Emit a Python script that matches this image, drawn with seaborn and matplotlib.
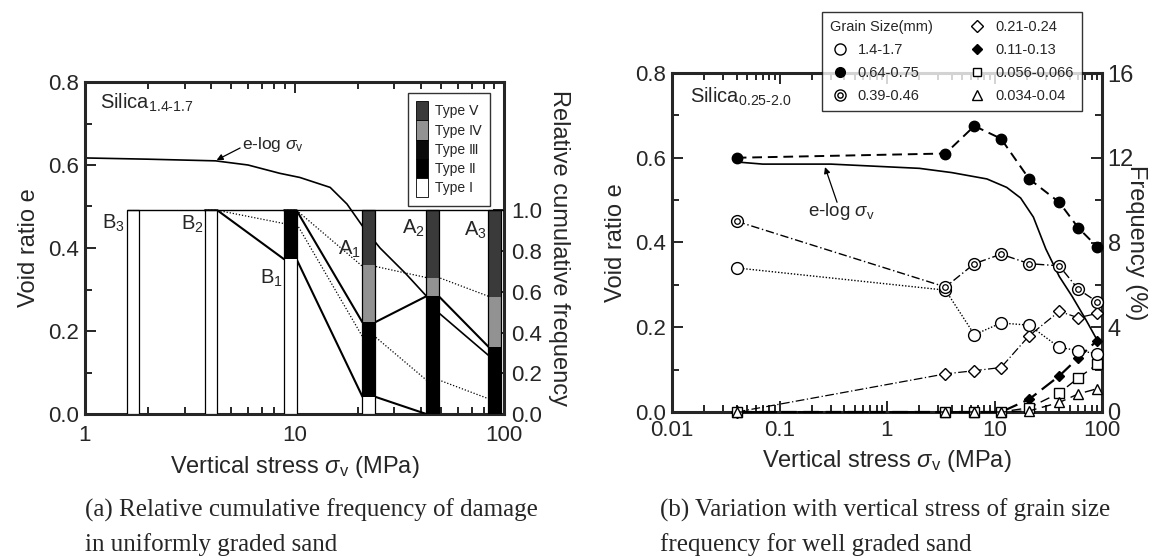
import numpy as np
import matplotlib
matplotlib.use("Agg")
import matplotlib.pyplot as plt
import seaborn as sns
from matplotlib.lines import Line2D
from matplotlib.patches import Patch
from matplotlib.ticker import LogLocator, NullFormatter, MultipleLocator, FixedLocator, FixedFormatter

nan = np.nan

# ---------------- (a) uniformly graded sand ----------------
a_stress = [1, 2, 4.2, 6, 8.5, 10.6, 14.8, 17.8, 21.3, 25.6, 34, 43, 49, 65, 84, 95]
a_void = [0.617, 0.614, 0.61, 0.60, 0.58, 0.57, 0.546, 0.506, 0.45, 0.40, 0.338,
          0.282, 0.243, 0.19, 0.142, 0.13]

col_names = ["B$_3$", "B$_2$", "B$_1$", "A$_1$", "A$_2$", "A$_3$"]
col_stress = [1.69, 4.0, 9.55, 22.6, 45.6, 90.3]
type_I = [1.0, 1.0, 0.76, 0.085, 0.0, 0.0]
type_II = [0.0, 0.0, 0.24, 0.365, 0.58, 0.33]
type_III = [0.0, 0.0, 0.0, 0.0, 0.0, 0.0]
type_IV = [0.0, 0.0, 0.0, 0.28, 0.09, 0.245]
type_V = [0.0, 0.0, 0.0, 0.27, 0.33, 0.425]
type_labels = ["Type Ⅰ", "Type Ⅱ", "Type Ⅲ", "Type Ⅳ", "Type Ⅴ"]

# cumulative-frequency links between neighbouring stress levels
link_solid_1 = [nan, 1.0, 0.76, 0.085, 0.0, nan]
link_solid_2 = [nan, nan, 1.0, 0.45, 0.578, 0.33]
link_dot_1 = [nan, 1.0, 0.935, 0.38, 0.167, 0.075]
link_dot_2 = [nan, nan, 1.0, 0.725, 0.67, 0.578]

# ---------------- (b) well graded sand ----------------
b_stress = [0.04, 3.5, 6.5, 11.5, 21, 40, 60, 90]
freq_1_4 = [6.8, 5.75, 3.65, 4.2, 4.1, 3.05, 2.9, 2.75]
freq_0_64 = [12.0, 12.2, 13.5, 12.9, 11.0, 9.9, 8.7, 7.8]
freq_0_39 = [9.0, 5.9, 7.0, 7.45, 7.0, 6.9, 5.8, 5.2]
freq_0_21 = [0.0, 1.8, 1.95, 2.1, 3.6, 4.75, 4.45, 4.65]
freq_0_11 = [0.0, 0.0, 0.0, 0.0, 0.6, 1.7, 2.55, 3.37]
freq_0_056 = [0.0, 0.0, 0.0, 0.0, 0.2, 0.9, 1.6, 2.25]
freq_0_034 = [0.0, 0.0, 0.0, 0.0, 0.05, 0.45, 0.85, 1.1]
grain_labels = ["1.4-1.7", "0.64-0.75", "0.39-0.46", "0.21-0.24",
                "0.11-0.13", "0.056-0.066", "0.034-0.04"]

b_elog_stress = [0.04, 0.07, 0.3, 2, 4, 8.5, 13, 17.5, 23, 30, 40, 53, 70, 90]
b_elog_void = [0.59, 0.585, 0.585, 0.575, 0.565, 0.55, 0.53, 0.505, 0.46, 0.385,
               0.32, 0.272, 0.22, 0.17]

# ---------------- style ----------------
sns.set_style("ticks")
plt.rcParams["font.family"] = ["Liberation Sans", "DejaVu Sans"]
plt.rcParams["mathtext.fontset"] = "custom"
plt.rcParams["mathtext.rm"] = "Liberation Sans"
plt.rcParams["mathtext.it"] = "Liberation Sans:italic"
plt.rcParams["mathtext.bf"] = "Liberation Sans:bold"

TICK = 16
LABEL = 17
SPINE = 2.2

fig = plt.figure(figsize=(11.65, 5.6), dpi=100)
fig.patch.set_facecolor("white")
W, H = 1165, 560


def px_axes(l, t, r, b):
    return fig.add_axes([l / W, 1 - b / H, (r - l) / W, (b - t) / H])


def style_log_axes(ax, xmin, xmax, labels, xpad, xlabelpad):
    ax.set_xscale("log")
    ax.set_xlim(xmin, xmax)
    ax.set_ylim(0, 0.8)
    majors = [xmin * 10 ** k for k in range(len(labels))]
    ax.xaxis.set_major_locator(FixedLocator(majors))
    ax.xaxis.set_major_formatter(FixedFormatter(labels))
    ax.xaxis.set_minor_locator(LogLocator(base=10, subs=np.arange(2, 10)))
    ax.xaxis.set_minor_formatter(NullFormatter())
    ax.yaxis.set_major_locator(MultipleLocator(0.2))
    ax.yaxis.set_minor_locator(MultipleLocator(0.1))
    ax.yaxis.set_major_formatter(plt.FuncFormatter(lambda v, p: f"{v:.1f}"))
    ax.tick_params(which="both", direction="in", top=True, right=True,
                   labelsize=TICK, width=1.4, pad=4)
    ax.tick_params(axis="x", which="both", pad=xpad)
    ax.tick_params(which="major", length=8)
    ax.tick_params(which="minor", length=5)
    for s in ax.spines.values():
        s.set_linewidth(SPINE)
    ax.set_ylabel("Void ratio e", fontsize=LABEL, labelpad=6)
    ax.set_xlabel(r"Vertical stress $\mathit{\sigma}_{\mathrm{v}}$ (MPa)",
                  fontsize=LABEL, labelpad=xlabelpad)


# ================= panel (a) =================
axA = px_axes(85, 82, 504, 414)
style_log_axes(axA, 1, 100, ["1", "10", "100"], xpad=8, xlabelpad=6)
sns.lineplot(x=a_stress, y=a_void, ax=axA, color="black", linewidth=1.2,
             estimator=None, sort=False, zorder=1)

axA2 = axA.twinx()
axA2.set_ylim(0, 1.63)
axA2.yaxis.set_major_locator(FixedLocator([0, 0.2, 0.4, 0.6, 0.8, 1.0]))
axA2.yaxis.set_major_formatter(plt.FuncFormatter(lambda v, p: f"{v:.1f}"))
axA2.tick_params(which="both", direction="in", labelsize=TICK, width=1.4,
                 length=8, pad=5)
for s in axA2.spines.values():
    s.set_visible(False)
axA2.set_ylabel("Relative cumulative frequency", fontsize=LABEL,
                rotation=270, labelpad=20)

half = 1.071
lefts = [c / half for c in col_stress]
widths = [c * half - c / half for c in col_stress]
type_colors = ["white", "black", "#0a0a0a", "#929292", "#3a3a3a"]
bottom = np.zeros(len(col_stress))
for frac, colr in zip([type_I, type_II, type_III, type_IV, type_V], type_colors):
    frac = np.asarray(frac)
    axA2.bar(lefts, frac, width=widths, bottom=bottom, align="edge",
             color=colr, edgecolor="none", zorder=3)
    bottom = bottom + frac
axA2.bar(lefts, bottom, width=widths, align="edge", facecolor="none",
         edgecolor="black", linewidth=0.9, zorder=4)

# top edge of the cumulative-frequency frame
axA2.hlines(1.0, lefts[0], 100, color="black", linewidth=1.0, zorder=4)


def draw_link(values, **kw):
    xs, ys = [], []
    for c, v in zip(col_stress, values):
        if np.isnan(v):
            continue
        xs += [c / half, c * half]
        ys += [v, v]
    axA2.plot(xs, ys, color="black", zorder=2, **kw)


draw_link(link_solid_1, linewidth=1.5)
draw_link(link_solid_2, linewidth=1.5)
draw_link(link_dot_1, linewidth=0.9, linestyle=(0, (1, 1.5)))
draw_link(link_dot_2, linewidth=0.9, linestyle=(0, (1, 1.5)))

label_heights = [0.935, 0.93, 0.665, 0.81, 0.91, 0.90]
for name, left, hgt in zip(col_names, lefts, label_heights):
    axA2.text(left * 0.985, hgt, name, ha="right", va="center", fontsize=14.5,
              zorder=5)

handles_a = [Patch(facecolor=c, edgecolor="black", linewidth=0.6)
             for c in type_colors][::-1]
leg_a = axA2.legend(handles_a, type_labels[::-1], loc="upper right",
                    bbox_to_anchor=(0.967, 0.967), borderaxespad=0,
                    fontsize=10, frameon=True, fancybox=False,
                    edgecolor="black", handlelength=0.85, handleheight=1.75,
                    labelspacing=0, handletextpad=0.5, borderpad=0.6)
leg_a.get_frame().set_linewidth(1.0)
leg_a.set_zorder(10)

axA.text(0.036, 0.937, r"Silica$_{\text{1.4-1.7}}$", transform=axA.transAxes,
         fontsize=14.5, va="center", ha="left")
axA.annotate("", xy=(4.25, 0.612), xytext=(5.5, 0.641),
             arrowprops=dict(arrowstyle="-|>", color="black", lw=0.9,
                             mutation_scale=9, shrinkA=0, shrinkB=0))
axA.text(5.6, 0.650, r"e-log $\mathit{\sigma}_{\mathrm{v}}$", fontsize=12.5,
         ha="left", va="center")

# ================= panel (b) =================
axB = px_axes(672, 73, 1102, 412)
style_log_axes(axB, 0.01, 100, ["0.01", "0.1", "1", "10", "100"], xpad=6,
               xlabelpad=5)
sns.lineplot(x=b_elog_stress, y=b_elog_void, ax=axB, color="black",
             linewidth=1.2, estimator=None, sort=False)

axB2 = axB.twinx()
axB2.set_ylim(0, 16)
axB2.yaxis.set_major_locator(MultipleLocator(4))
axB2.yaxis.set_minor_locator(MultipleLocator(2))
axB2.tick_params(which="both", direction="in", labelsize=TICK + 1, width=1.4,
                 pad=4)
axB2.tick_params(which="major", length=8)
axB2.tick_params(which="minor", length=5)
for s in axB2.spines.values():
    s.set_visible(False)
axB2.set_ylabel("Frequency (%)", fontsize=LABEL, rotation=270, labelpad=6)
axB2.yaxis.set_label_coords(1.105, 0.5)

series = [
    (freq_0_21, dict(marker="D", ms=6.5, mfc="white", ls=(0, (7, 2, 1, 2)), lw=0.9)),
    (freq_0_11, dict(marker="D", ms=5.5, mfc="black", ls=(0, (7, 3)), lw=1.6)),
    (freq_0_056, dict(marker="s", ms=6.5, mfc="white", ls=(0, (7, 4)), lw=1.0)),
    (freq_0_034, dict(marker="^", ms=7, mfc="white", ls=(0, (7, 4)), lw=1.0)),
    (freq_1_4, dict(marker="o", ms=8.5, mfc="white", ls=(0, (1, 1.3)), lw=1.0)),
    (freq_0_39, dict(marker="o", ms=8.5, mfc="white", ls=(0, (6, 2, 1, 2)), lw=1.0)),
    (freq_0_64, dict(marker="o", ms=7.5, mfc="black", ls=(0, (5, 3)), lw=1.4)),
]
for vals, kw in series:
    sns.lineplot(x=b_stress, y=vals, ax=axB2, color="black", mec="black",
                 mew=1.0, estimator=None, sort=False, clip_on=False, zorder=3,
                 **kw)
# inner ring of the double-circle symbol
sns.lineplot(x=b_stress, y=freq_0_39, ax=axB2, color="black", marker="o",
             ms=4, mfc="white", mec="black", mew=0.9, ls="none",
             estimator=None, sort=False, clip_on=False, zorder=4)

axB.text(0.042, 0.929, r"Silica$_{\text{0.25-2.0}}$", transform=axB.transAxes,
         fontsize=14.5, va="center", ha="left")
axB.annotate("", xy=(0.265, 0.578), xytext=(0.343, 0.495),
             arrowprops=dict(arrowstyle="-|>", color="black", lw=0.9,
                             mutation_scale=9, shrinkA=0, shrinkB=0))
axB.text(0.184, 0.474, r"e-log $\mathit{\sigma}_{\mathrm{v}}$", fontsize=13.5,
         ha="left", va="center")


def mk(marker, ms, mfc):
    return Line2D([], [], color="black", marker=marker, ms=ms, mfc=mfc,
                  mec="black", mew=1.0, ls="none")


handles_b = [
    Line2D([], [], ls="none"),
    mk("o", 8, "white"),
    mk("o", 7, "black"),
    (mk("o", 8, "white"), mk("o", 3.8, "white")),
    mk("D", 6, "white"),
    mk("D", 5.5, "black"),
    mk("s", 6, "white"),
    mk("^", 6.5, "white"),
]
labels_b = ["Grain Size(mm)"] + grain_labels
LEG_FS = 10.5
leg_b = axB2.legend(handles_b, labels_b, ncol=2, loc="upper right",
                    bbox_to_anchor=(1082 / W, 1 - 12 / H),
                    bbox_transform=fig.transFigure, fontsize=LEG_FS,
                    frameon=True, fancybox=False, edgecolor="black",
                    handlelength=1.3, handletextpad=0.6, columnspacing=0.5,
                    labelspacing=0.62, borderpad=0.55, borderaxespad=0)
leg_b.get_frame().set_linewidth(1.0)
leg_b.set_zorder(10)
# the heading sits where a symbol would be
leg_b.get_texts()[0].set_x(-(1.3 + 0.6) * LEG_FS * fig.dpi / 72)

# ---------------- captions ----------------
cap = dict(family="Liberation Serif", fontsize=18, va="center", ha="left")
fig.text(85 / W, 1 - 510 / H, "(a) Relative cumulative frequency of damage", **cap)
fig.text(85 / W, 1 - 545 / H, "in uniformly graded sand", **cap)
fig.text(660 / W, 1 - 510 / H, "(b) Variation with vertical stress of grain size", **cap)
fig.text(660 / W, 1 - 545 / H, "frequency for well graded sand", **cap)

fig.savefig("out.png", dpi=100, facecolor="white")
